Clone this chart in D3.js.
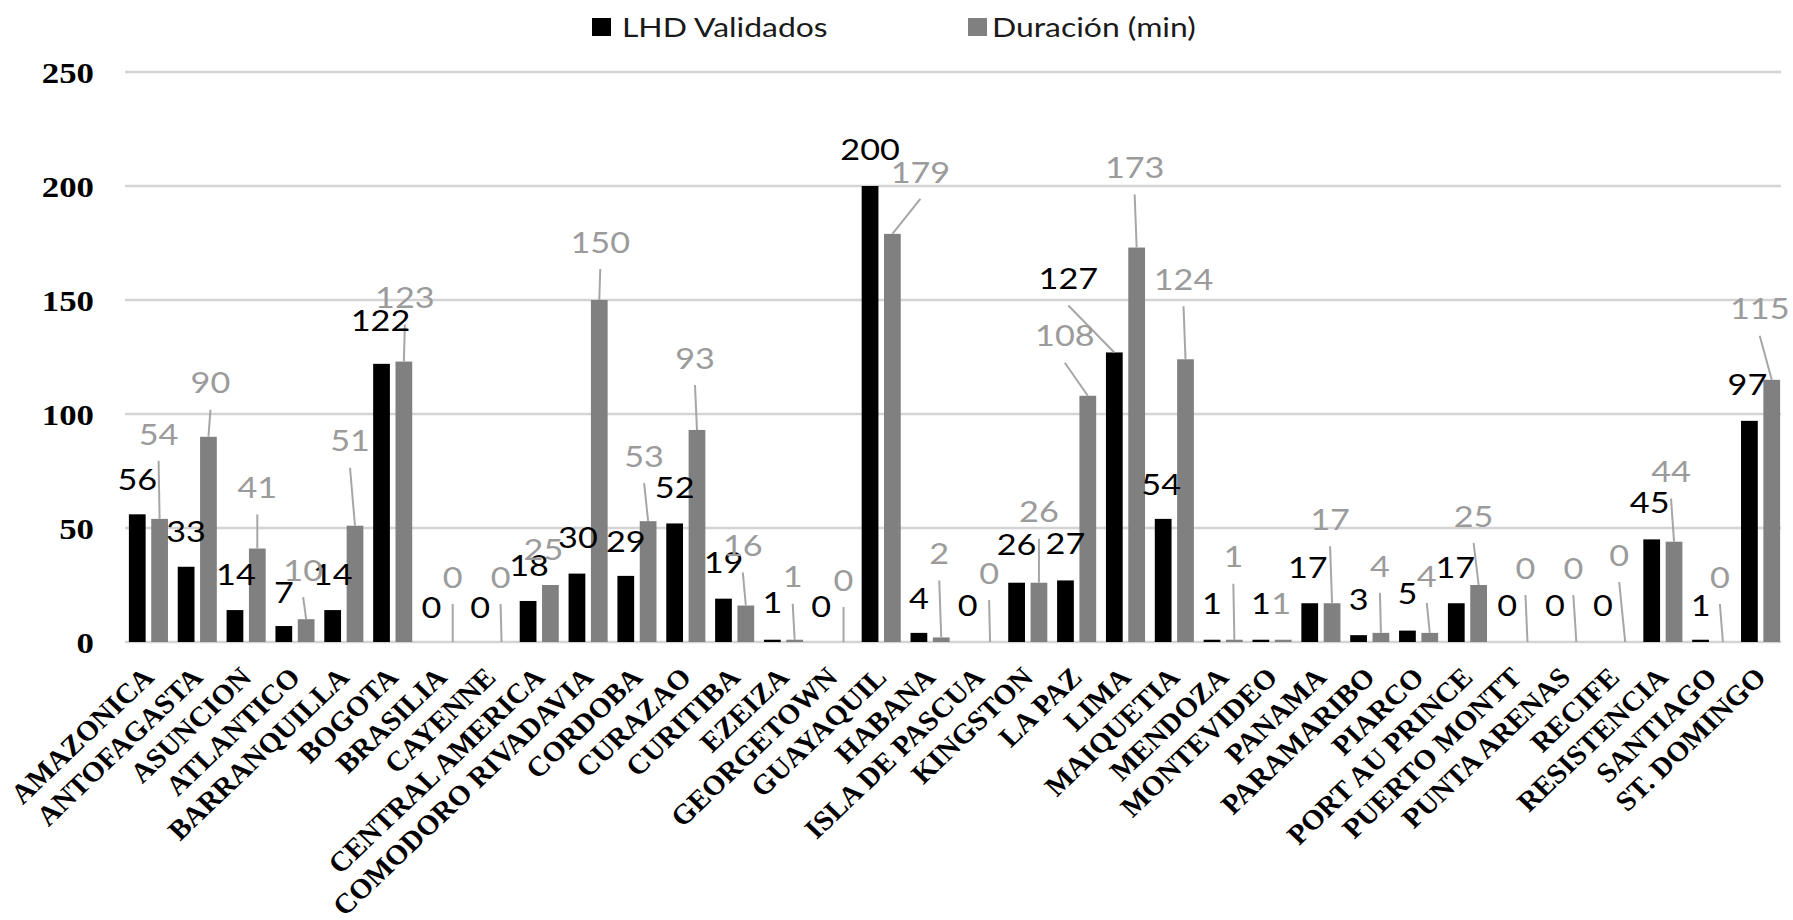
<!DOCTYPE html>
<html>
<head>
<meta charset="utf-8">
<script src="https://cdn.jsdelivr.net/npm/d3@7/dist/d3.min.js"></script>
<style>
  html, body { margin: 0; padding: 0; background: #fff; }
  svg { display: block; }
</style>
</head>
<body>
<svg id="chart" width="1793" height="920"></svg>
<script>
// ---- data ----
const categories = ["AMAZONICA","ANTOFAGASTA","ASUNCION","ATLANTICO","BARRANQUILLA","BOGOTA","BRASILIA","CAYENNE","CENTRAL AMERICA","COMODORO RIVADAVIA","CORDOBA","CURAZAO","CURITIBA","EZEIZA","GEORGETOWN","GUAYAQUIL","HABANA","ISLA DE PASCUA","KINGSTON","LA PAZ","LIMA","MAIQUETIA","MENDOZA","MONTEVIDEO","PANAMA","PARAMARIBO","PIARCO","PORT AU PRINCE","PUERTO MONTT","PUNTA ARENAS","RECIFE","RESISTENCIA","SANTIAGO","ST. DOMINGO"];
const lhdValidados = [56,33,14,7,14,122,0,0,18,30,29,52,19,1,0,200,4,0,26,27,127,54,1,1,17,3,5,17,0,0,0,45,1,97];
const duracionMin  = [54,90,41,10,51,123,0,0,25,150,53,93,16,1,0,179,2,0,26,108,173,124,1,1,17,4,4,25,0,0,0,44,0,115];
const seriesNames = ["LHD Validados","Duración (min)"];
const yTicks = [0,50,100,150,200,250];

// ---- label placement (offsets of each data label from its bar top, px) ----
const lhdLabelOffset = [[0,-35],[0,-35],[1,-36],[0,-34],[0,-36],[-1,-43],[1,-35],[1,-35],[1,-36],[1,-36],[0,-35],[0,-36],[0,-36],[0,-37],[0,-36],[0,-37],[0,-35],[0,-37],[0,-38],[0,-37],[-46,-74],[-2,-35],[0,-36],[0,-36],[-2,-36],[0,-36],[0,-37],[-1,-36],[2,-37],[1,-37],[0,-37],[-2,-37],[0,-34],[-2,-36]];
const durLabelOffset = [[-1,-85],[2,-54],[0,-61],[-3,-49],[-5,-85],[1,-64],[0,-65],[-1,-65],[-7,-36],[1,-58],[-4,-65],[-2,-72],[-3,-60],[-2,-63],[0,-62],[28,-62],[-2,-84],[-1,-69],[0,-71],[-23,-60],[-2,-80],[-2,-80],[-1,-83],[-2,-36],[-2,-84],[-1,-67],[-3,-57],[-5,-69],[-2,-74],[-3,-74],[-6,-87],[-3,-70],[-3,-65],[-12,-71]];

// ---- styles ----
const SX = 1.16;               // horizontal stretch of the reference picture (sans / y labels)
const SXcat = 1.05;            // stretch of the rotated category labels
const colors = ["#000000", "#808080"];
const labelColors = ["#000000", "#9b9b9b"];
const sansFont = "Lato, 'Open Sans', sans-serif";
const serifFont = "'Liberation Serif', 'Times New Roman', serif";

const svg = d3.select("#chart");
svg.append("rect").attr("width",1793).attr("height",920).attr("fill","#fff");

const x = d3.scaleBand().domain(categories).range([124, 1785]).paddingInner(0.2).paddingOuter(0.1);
const x1 = d3.scaleBand().domain(seriesNames).range([0, x.bandwidth()]).paddingInner(0.25);
const y = d3.scaleLinear().domain([0, 250]).range([642, 72]);

// gridlines
svg.append("g").selectAll("line").data(yTicks).join("line")
  .attr("x1", 125).attr("x2", 1781)
  .attr("y1", d => y(d)).attr("y2", d => y(d))
  .attr("stroke", "#d4d4d4").attr("stroke-width", 2.5);

// y axis labels
const yAxis = d3.axisLeft(y).tickValues(yTicks).tickSize(0).tickPadding(0);
const gy = svg.append("g").attr("transform", "translate(94,0)").call(yAxis);
gy.select(".domain").remove();
gy.selectAll("text")
  .attr("x", 0).attr("y", null)
  .attr("transform", "scale(" + SX + ",1)")
  .attr("dy", "0.34em")
  .style("font-family", serifFont).style("font-weight", "bold").style("font-size", "30px")
  .attr("fill", "#000").attr("text-anchor", "end");

// x axis labels
const xAxis = d3.axisBottom(x).tickSize(0).tickPadding(0);
const gx = svg.append("g").attr("transform", "translate(0,642)").call(xAxis);
gx.select(".domain").remove();
gx.selectAll("text")
  .attr("x", null).attr("y", null).attr("dy", null)
  .attr("transform", "translate(7,37) scale(" + SXcat + ",1) rotate(-45)")
  .attr("text-anchor", "end")
  .style("font-family", serifFont).style("font-weight", "bold").style("font-size", "28px")
  .attr("fill", "#000");

// bars
const series = [lhdValidados, duracionMin];
const offsets = [lhdLabelOffset, durLabelOffset];
const barsG = svg.append("g");
series.forEach((vals, s) => {
  barsG.selectAll(".bar" + s).data(vals).join("rect")
    .attr("class", "bar" + s)
    .attr("x", (d, i) => x(categories[i]) + x1(seriesNames[s]))
    .attr("width", x1.bandwidth())
    .attr("y", d => y(d))
    .attr("height", d => y(0) - y(d))
    .attr("fill", colors[s]);
});

// leader lines + data labels
const labelsG = svg.append("g");
const FS = 29.5;
series.forEach((vals, s) => {
  vals.forEach((v, i) => {
    const bx = x(categories[i]) + x1(seriesNames[s]) + x1.bandwidth() / 2;
    const by = y(v);
    const [dx, dy] = offsets[s][i];
    const lx = bx + dx, ly = by + dy;
    if (dy < -45) {
      labelsG.append("line")
        .attr("x1", lx).attr("y1", ly + 27)
        .attr("x2", bx).attr("y2", by)
        .attr("stroke", "#a6a6a6").attr("stroke-width", 2);
    }
  });
});
series.forEach((vals, s) => {
  vals.forEach((v, i) => {
    const bx = x(categories[i]) + x1(seriesNames[s]) + x1.bandwidth() / 2;
    const by = y(v);
    const [dx, dy] = offsets[s][i];
    labelsG.append("text")
      .attr("transform", "translate(" + (bx + dx) + "," + (by + dy + FS * 0.36) + ") scale(" + SX + ",1)")
      .attr("text-anchor", "middle")
      .style("font-family", sansFont).style("font-size", FS + "px")
      .attr("fill", labelColors[s])
      .text(v);
  });
});

// legend
const legendX = [592, 968];
const legendTextX = [622, 992];
const lg = svg.append("g");
seriesNames.forEach((name, s) => {
  lg.append("rect").attr("x", legendX[s]).attr("y", 18).attr("width", 19).attr("height", 18).attr("fill", colors[s]);
  lg.append("text")
    .attr("transform", "translate(" + legendTextX[s] + ",37) scale(" + SX + ",1)")
    .style("font-family", sansFont).style("font-size", "27.5px")
    .attr("fill", "#1a1a1a")
    .text(name);
});
</script>
</body>
</html>
